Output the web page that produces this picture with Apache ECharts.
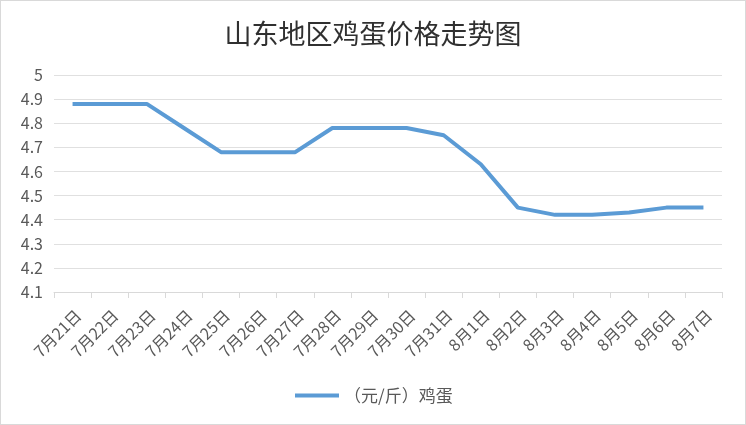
<!DOCTYPE html>
<html>
<head>
<meta charset="utf-8">
<script src="https://cdn.jsdelivr.net/npm/echarts@6/dist/echarts.min.js"></script>
<style>
html, body { margin: 0; padding: 0; background: #fff; }
#chart { width: 744px; height: 423px; border: 1px solid #d9d9d9; }
</style>
</head>
<body>
<div id="chart"></div>
<script>
var titleText = '山东地区鸡蛋价格走势图';
var seriesName = '（元/斤）鸡蛋';
var dates = ['7月21日', '7月22日', '7月23日', '7月24日', '7月25日', '7月26日',
    '7月27日', '7月28日', '7月29日', '7月30日', '7月31日', '8月1日',
    '8月2日', '8月3日', '8月4日', '8月5日', '8月6日', '8月7日'];
var prices = [4.88, 4.88, 4.88, 4.78, 4.68, 4.68, 4.68, 4.78, 4.78, 4.78,
    4.75, 4.63, 4.45, 4.42, 4.42, 4.43, 4.45, 4.45];
var yMin = 4.1, yMax = 5, yStep = 0.1;

var font = '"Noto Sans CJK SC", "Noto Sans", sans-serif';
var chart = echarts.init(document.getElementById('chart'));
chart.setOption({
    animation: false,
    textStyle: { fontFamily: font },
    title: {
        text: titleText,
        left: 'center',
        top: 14,
        textStyle: { fontSize: 27, fontWeight: 'normal', color: '#303030', fontFamily: font }
    },
    legend: {
        left: 289,
        bottom: 15,
        itemWidth: 44,
        itemHeight: 4,
        itemGap: 10,
        textStyle: { fontSize: 17, color: '#595959' },
        data: [{ name: seriesName, icon: 'rect' }]
    },
    grid: { left: 53, right: 23, top: 74, bottom: 132, containLabel: false },
    xAxis: {
        type: 'category',
        data: dates,
        boundaryGap: true,
        axisLine: { lineStyle: { color: '#d9d9d9' } },
        axisTick: { show: true, alignWithLabel: false, length: 6, lineStyle: { color: '#d9d9d9' } },
        axisLabel: {
            rotate: 45, interval: 0, fontSize: 16, color: '#595959',
            margin: 15, verticalAlign: 'top', lineHeight: 16
        }
    },
    yAxis: {
        type: 'value',
        min: yMin,
        max: yMax,
        interval: yStep,
        axisLine: { show: false },
        axisTick: { show: false },
        axisLabel: {
            fontSize: 16,
            color: '#595959',
            margin: 11,
            formatter: function (v) { return String(Math.round(v * 10) / 10); }
        },
        splitLine: { lineStyle: { color: '#e0e0e0' } }
    },
    series: [{
        name: seriesName,
        type: 'line',
        data: prices,
        symbol: 'none',
        lineStyle: { color: '#5b9bd5', width: 4 },
        itemStyle: { color: '#5b9bd5' }
    }]
});
</script>
</body>
</html>
